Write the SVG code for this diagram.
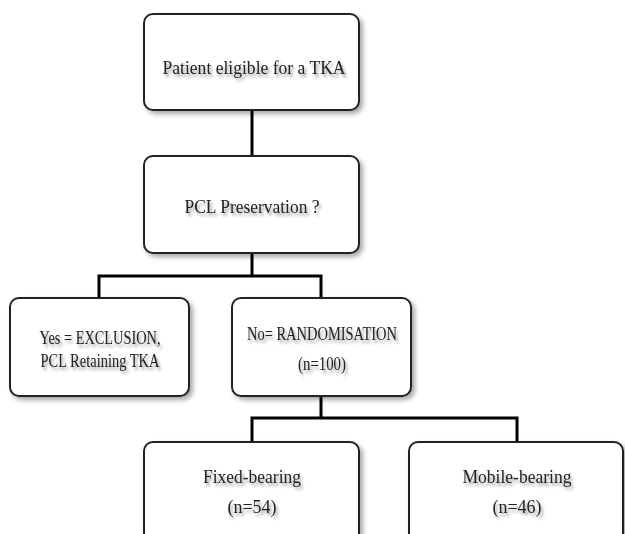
<svg xmlns="http://www.w3.org/2000/svg" width="625" height="534" viewBox="0 0 625 534">
<defs>
<filter id="bs" x="-10%" y="-10%" width="125%" height="130%">
<feGaussianBlur in="SourceAlpha" stdDeviation="2.5"/>
<feOffset dx="3" dy="3" result="b"/>
<feComponentTransfer in="b" result="s"><feFuncA type="linear" slope="0.35"/></feComponentTransfer>
<feMerge><feMergeNode in="s"/><feMergeNode in="SourceGraphic"/></feMerge>
</filter>
<filter id="ts" x="-10%" y="-30%" width="125%" height="180%">
<feGaussianBlur in="SourceAlpha" stdDeviation="1.8"/>
<feOffset dx="2" dy="3" result="b"/>
<feComponentTransfer in="b" result="s"><feFuncA type="linear" slope="0.4"/></feComponentTransfer>
<feMerge><feMergeNode in="s"/><feMergeNode in="SourceGraphic"/></feMerge>
</filter>
</defs>
<style>
.box{fill:#fff;stroke:#222;stroke-width:2;filter:url(#bs)}
.t{font-family:"Liberation Serif","Times New Roman",serif;font-size:18px;fill:#222;text-anchor:middle;filter:url(#ts)}
.c{fill:none;stroke:#000;stroke-width:3}
</style>
<rect width="625" height="534" fill="#fff"/>
<g id="connectors">
<path class="c" d="M252 110V156"/>
<path class="c" d="M252 253V276M99 298V276H321V298"/>
<path class="c" d="M321 396V418M252 442V418H517V442"/>
</g>
<g id="n1">
<rect class="box" x="144" y="14" width="215" height="96" rx="9"/>
<text class="t" x="254" y="74" textLength="183" lengthAdjust="spacingAndGlyphs">Patient eligible for a TKA</text>
</g>
<g id="n2">
<rect class="box" x="144" y="156" width="215" height="97" rx="9"/>
<text class="t" x="252" y="213" textLength="135" lengthAdjust="spacingAndGlyphs">PCL Preservation ?</text>
</g>
<g id="n3">
<rect class="box" x="10" y="298" width="179" height="98" rx="9"/>
<text class="t" x="100" y="344" textLength="121" lengthAdjust="spacingAndGlyphs">Yes = EXCLUSION,</text>
<text class="t" x="100" y="367" textLength="119" lengthAdjust="spacingAndGlyphs">PCL Retaining TKA</text>
</g>
<g id="n4">
<rect class="box" x="232" y="298" width="179" height="98" rx="9"/>
<text class="t" x="322" y="340" textLength="150" lengthAdjust="spacingAndGlyphs">No= RANDOMISATION</text>
<text class="t" x="322" y="370" textLength="48" lengthAdjust="spacingAndGlyphs">(n=100)</text>
</g>
<g id="n5">
<rect class="box" x="144" y="442" width="215" height="110" rx="9"/>
<text class="t" x="252" y="483" textLength="98" lengthAdjust="spacingAndGlyphs">Fixed-bearing</text>
<text class="t" x="252" y="513" textLength="49" lengthAdjust="spacingAndGlyphs">(n=54)</text>
</g>
<g id="n6">
<rect class="box" x="409" y="442" width="214" height="110" rx="9"/>
<text class="t" x="517" y="483" textLength="109" lengthAdjust="spacingAndGlyphs">Mobile-bearing</text>
<text class="t" x="517" y="513" textLength="49" lengthAdjust="spacingAndGlyphs">(n=46)</text>
</g>
</svg>
